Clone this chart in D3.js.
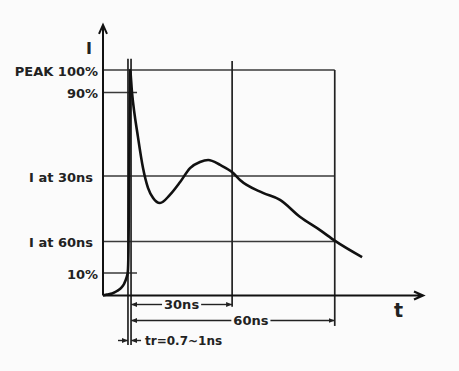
<!DOCTYPE html>
<html lang="en">
<head>
<meta charset="UTF-8">
<title>ESD current waveform</title>
<style>
  body { margin: 0; background: #fbfbfb; }
  text { font-family: "DejaVu Sans", sans-serif; font-weight: bold; fill: #222; }
</style>
</head>
<body>
<svg width=459 height=371 id="viz"></svg>
<script src="https://d3js.org/d3.v7.min.js"></script>
<script>
/* global d3 */

// waveform: time in ns, current in % of peak
const timeNs = [-7.75, -6.6, -5.1, -3.65, -2.5, -1.6, -0.9, -0.5, -0.3, -0.1, 0.1, 0.15, 0.73, 2.5, 3.95, 5.4, 6.9, 8.9, 11.8, 14.8, 17.7, 20.6, 23, 26.5, 30.3, 32.3, 39, 44, 49.9, 55.7, 60.1, 68];
const currentPct = [0, 0.4, 0.9, 2, 3.3, 5.1, 7.8, 10.4, 20, 55, 90, 100, 90, 70, 56.5, 47.7, 43.2, 41, 44.6, 50.3, 56.5, 59.2, 60.1, 57.9, 54.3, 51.2, 45.5, 42.4, 34.8, 29, 24.2, 17];

// horizontal reference levels
const levelPct = [100, 90, 53, 24, 10];
const levelLabels = ["PEAK 100%", "90%", "I at 30ns", "I at 60ns", "10%"];
const levelEndNs = [60, 2.2, 60, 60, 2.2];

// vertical guide lines
const markerNs = [-0.45, 0.45, 30, 60];
const markerTopPct = [105, 105, 104, 100];
const markerBottomPct = [-22, -22, -5, -13.5];

// dimension arrows under the axis
const spanEndNs = [30, 60];
const spanLabels = ["30ns", "60ns"];
const riseLabel = "tr=0.7~1ns";
const axisLabels = ["I", "t"];

let svg = d3.select("#viz");

let x = d3.scaleLinear().domain([-7.75, 85.8]).range([103, 423]);
let y = d3.scaleLinear().domain([0, 100]).range([295.5, 70]);

let defs = svg.append("defs");
defs.append("marker")
  .attr("id", "arr")
  .attr("viewBox", "0 0 10 10")
  .attr("refX", 10).attr("refY", 5)
  .attr("markerWidth", 6).attr("markerHeight", 6)
  .attr("markerUnits", "userSpaceOnUse")
  .attr("orient", "auto-start-reverse")
  .append("path")
  .attr("d", "M0,1L10,5L0,9Z")
  .attr("fill", "#222");

// grid / reference lines
svg.selectAll(".level")
  .data(levelPct)
  .enter().append("line")
  .attr("class", "level")
  .attr("x1", x(-7.75))
  .attr("x2", (d, i) => x(levelEndNs[i]))
  .attr("y1", d => y(d))
  .attr("y2", d => y(d))
  .attr("stroke", "#3a3a3a")
  .attr("stroke-width", 1.5);

svg.selectAll(".marker")
  .data(markerNs)
  .enter().append("line")
  .attr("class", "marker")
  .attr("x1", d => x(d))
  .attr("x2", d => x(d))
  .attr("y1", (d, i) => y(markerTopPct[i]))
  .attr("y2", (d, i) => y(markerBottomPct[i]))
  .attr("stroke", "#222")
  .attr("stroke-width", 1.7);

// level labels via a left axis
svg.append("g")
  .attr("transform", "translate(" + x(-7.75) + ",0)")
  .call(d3.axisLeft(y).tickValues(levelPct).tickFormat((d, i) => levelLabels[i]).tickSize(0).tickPadding(5))
  .call(g => g.select(".domain").remove())
  .selectAll("text")
  .attr("font-size", 13)
  .attr("font-family", null)
  .attr("dx", (d, i) => levelLabels[i].startsWith("I ") ? -5 : 0)
  .attr("dy", "0.4em");

// axes with arrows
let x0 = x(-7.75), y0 = y(0), xEnd = x(85.8), yTop = y(120);
svg.append("path")
  .attr("d", "M" + x0 + "," + y0 + "V" + yTop + "M" + (x0 - 4) + "," + (yTop + 9) + "L" + x0 + "," + yTop + "L" + (x0 + 4) + "," + (yTop + 9))
  .attr("fill", "none").attr("stroke", "#111").attr("stroke-width", 2);
svg.append("path")
  .attr("d", "M" + x0 + "," + y0 + "H" + xEnd + "M" + (xEnd - 9) + "," + (y0 - 4) + "L" + xEnd + "," + y0 + "L" + (xEnd - 9) + "," + (y0 + 4))
  .attr("fill", "none").attr("stroke", "#111").attr("stroke-width", 2.2);

svg.append("text").text(axisLabels[0])
  .attr("x", x0 - 17).attr("y", yTop + 29)
  .attr("font-size", 16);
svg.append("text").text(axisLabels[1])
  .attr("x", xEnd - 29).attr("y", y0 + 21)
  .attr("font-size", 19);

// waveform
let wave = timeNs.map((t, i) => [t, currentPct[i]]);
svg.append("path")
  .datum(wave)
  .attr("d", d3.line().x(d => x(d[0])).y(d => y(d[1])).curve(d3.curveMonotoneX))
  .attr("fill", "none")
  .attr("stroke", "#111")
  .attr("stroke-width", 2.6)
  .attr("stroke-linejoin", "round");

// dimension arrows
const rowOffset = [9, 25];
const labelShift = [0, 18];
spanEndNs.forEach((t1, i) => {
  let yy = y0 + rowOffset[i];
  let xa = x(markerNs[1]), xb = x(t1);
  let cx = (xa + xb) / 2 + labelShift[i];
  let label = svg.append("text").text(spanLabels[i])
    .attr("x", cx).attr("y", yy)
    .attr("dy", "0.36em")
    .attr("text-anchor", "middle")
    .attr("font-size", 13);
  let w = label.node().getComputedTextLength();
  svg.append("line")
    .attr("x1", cx - w / 2 - 2).attr("x2", xa)
    .attr("y1", yy).attr("y2", yy)
    .attr("stroke", "#222").attr("stroke-width", 1.4)
    .attr("marker-end", "url(#arr)");
  svg.append("line")
    .attr("x1", cx + w / 2 + 2).attr("x2", xb)
    .attr("y1", yy).attr("y2", yy)
    .attr("stroke", "#222").attr("stroke-width", 1.4)
    .attr("marker-end", "url(#arr)");
});

// rise time
let yr = y0 + 45;
svg.append("line")
  .attr("x1", x(markerNs[0]) - 10).attr("x2", x(markerNs[0]))
  .attr("y1", yr).attr("y2", yr)
  .attr("stroke", "#222").attr("stroke-width", 1.4)
  .attr("marker-end", "url(#arr)");
svg.append("line")
  .attr("x1", x(markerNs[1]) + 10).attr("x2", x(markerNs[1]))
  .attr("y1", yr).attr("y2", yr)
  .attr("stroke", "#222").attr("stroke-width", 1.4)
  .attr("marker-end", "url(#arr)");
svg.append("text").text(riseLabel)
  .attr("x", x(markerNs[1]) + 14).attr("y", yr)
  .attr("dy", "0.36em")
  .attr("font-size", 12);
</script>
</body>
</html>
